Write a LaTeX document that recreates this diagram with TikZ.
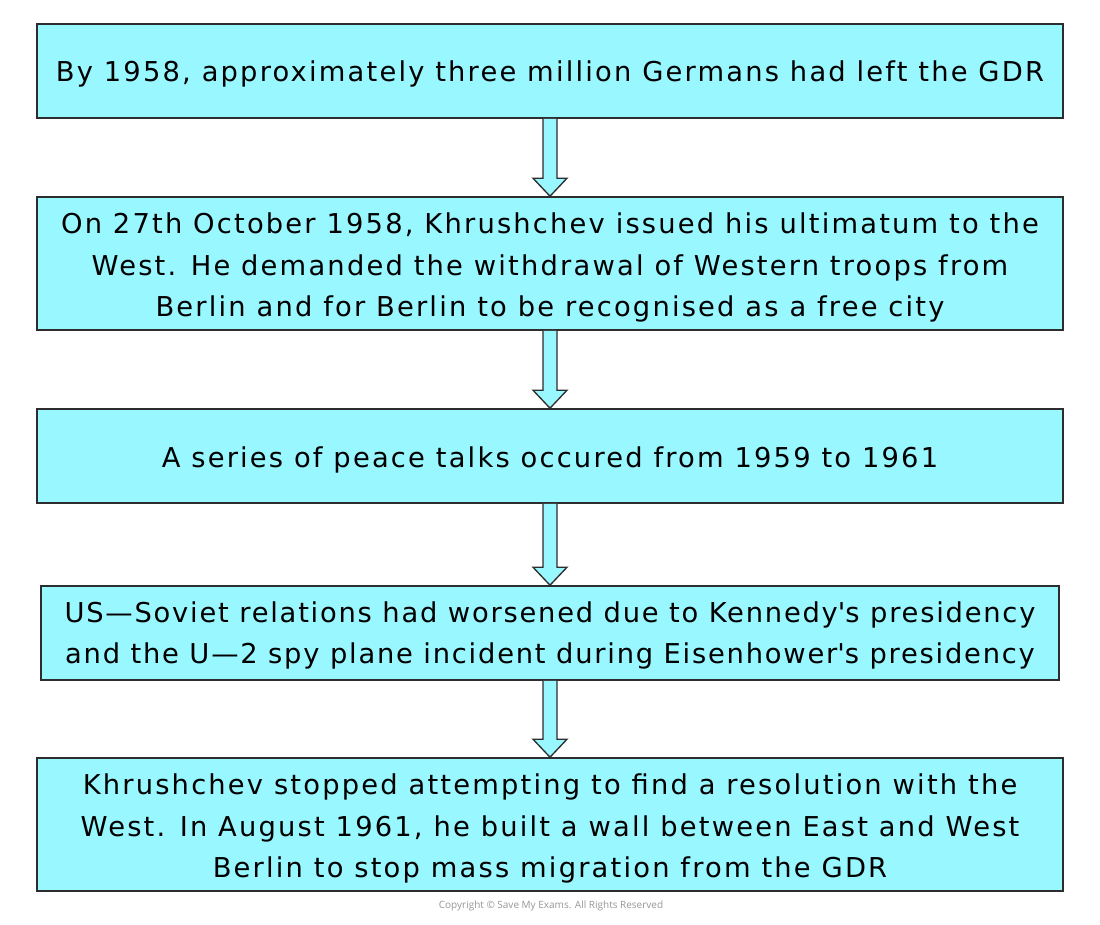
\documentclass[tikz,border=0pt]{standalone}
\usepackage{fontspec}
\setmainfont{DejaVu Sans}[LetterSpace=8]
\newfontfamily\copyfont{Open Sans}
\usetikzlibrary{calc}
\definecolor{boxfill}{RGB}{153,247,255}
\definecolor{boxline}{RGB}{45,45,45}
\definecolor{copygrey}{RGB}{150,150,150}
\newcommand{\apos}{\textquotesingle}
\begin{document}
\begin{tikzpicture}[x=0.75pt,y=-0.75pt,
  stepbox/.style={draw=boxline,fill=boxfill,line width=1.2pt,inner sep=0pt,minimum height=70.5pt},
  steptext/.style={align=center,inner sep=0pt,font=\fontsize{20.5}{31}\selectfont},
  flowarrow/.style={draw=boxline,fill=boxfill,line width=1pt,line join=miter}]
\useasboundingbox (0,0) rectangle (1100,925);
\node[stepbox,minimum width=769.5pt] (b1) at (550,71) {};
\node[stepbox,minimum width=769.5pt,minimum height=99.75pt] (b2) at (550,263.5) {};
\node[stepbox,minimum width=769.5pt] (b3) at (550,456) {};
\node[stepbox,minimum width=763.5pt] (b4) at (550,633) {};
\node[stepbox,minimum width=769.5pt,minimum height=99.75pt] (b5) at (550,824.5) {};
\node[steptext] (t1) at ($(b1.center)+(0,2.5)$) {By 1958, approximately three million Germans had left the GDR};
\node[steptext] (t2) at ($(b2.center)+(0,4)$) {On 27th October 1958, Khrushchev issued his ultimatum to the\\West. He demanded the withdrawal of Western troops from\\Berlin and for Berlin to be recognised as a free city};
\node[steptext] (t3) at ($(b3.center)+(0,3.5)$) {A series of peace talks occured from 1959 to 1961};
\node[steptext,font=\fontsize{20.5}{31}\selectfont\addfontfeature{LetterSpace=6.5}] (t4) at ($(b4.center)+(0,2.5)$) {US—Soviet relations had worsened due to Kennedy\apos s presidency\\and the U—2 spy plane incident during Eisenhower\apos s presidency};
\node[steptext] (t5) at ($(b5.center)+(0,4)$) {Khrushchev stopped attempting to find a resolution with the\\West. In August 1961, he built a wall between East and West\\Berlin to stop mass migration from the GDR};
\foreach \a/\b in {b1/b2,b2/b3,b3/b4,b4/b5}{
  \draw[flowarrow] ($(\a.south)+(-7,0)$) -- ($(\b.north)+(-7,-18)$) -- ($(\b.north)+(-17,-18)$)
    -- (\b.north) -- ($(\b.north)+(17,-18)$) -- ($(\b.north)+(7,-18)$) -- ($(\a.south)+(7,0)$);
}
\node[font=\copyfont\fontsize{7.5}{9}\selectfont,text=copygrey] (copy) at (551,906) {Copyright © Save My Exams. All Rights Reserved};
\end{tikzpicture}
\end{document}
